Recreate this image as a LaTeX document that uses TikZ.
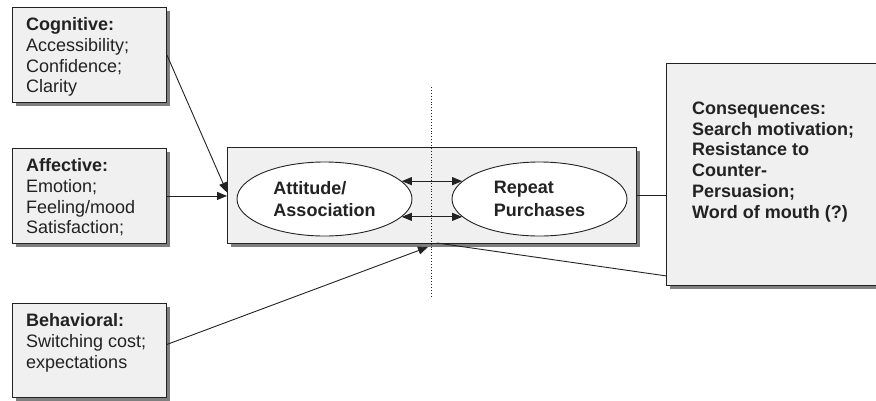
\documentclass[tikz,border=0pt]{standalone}
\usepackage{fontspec}
\setmainfont{Liberation Sans}
\usetikzlibrary{arrows.meta,shadows,shapes.geometric,calc}
\definecolor{boxfill}{HTML}{EFF0EF}
\definecolor{shadowgray}{HTML}{7F7F7F}
\definecolor{inkc}{HTML}{222222}
\begin{document}
\begin{tikzpicture}[x=1pt,y=-1pt,
  panel/.style={draw=inkc, line width=0.9pt, fill=boxfill,
    general shadow={fill=shadowgray, shadow xshift=4pt, shadow yshift=-4pt},
    inner sep=0pt, anchor=north west},
  lbl/.style={anchor=north west, inner sep=0pt, align=left,
    font=\fontsize{18}{20.6}\selectfont, text=inkc},
  oval/.style={ellipse, draw=inkc, line width=0.9pt, fill=white,
    minimum width=175pt, minimum height=74pt, inner sep=0pt, align=left,
    font=\fontsize{18}{22.4}\selectfont\bfseries, text=inkc},
  link/.style={draw=inkc, line width=0.9pt},
  arr/.style={link, -{Triangle[length=10pt,width=8pt]}},
  darr/.style={link, {Triangle[length=10pt,width=8pt]}-{Triangle[length=10pt,width=8pt]}},
]
\useasboundingbox (0,0) rectangle (876,400);

% left boxes
\node[panel, minimum width=154pt, minimum height=95pt] (cog) at (12,7) {};
\node[lbl] (cogt) at ([xshift=14pt,yshift=-9.3pt]cog.north west)
  {\strut\textbf{Cognitive:}\\Accessibility;\\Confidence;\\Clarity};

\node[panel, minimum width=154pt, minimum height=95pt] (aff) at (12,148) {};
\node[lbl] (afft) at ([xshift=14pt,yshift=-9.3pt]aff.north west)
  {\strut\textbf{Affective:}\\Emotion;\\Feeling/mood\\Satisfaction;};

\node[panel, minimum width=154pt, minimum height=94pt] (beh) at (12,303) {};
\node[lbl] (beht) at ([xshift=14pt,yshift=-9.3pt]beh.north west)
  {\strut\textbf{Behavioral:}\\Switching cost;\\expectations};

% central box
\node[panel, minimum width=409pt, minimum height=96pt] (central) at (227,147) {};
\node[oval] (att) at (324.5,199) {Attitude/\\Association};
\node[oval] (rep) at (539.5,199) {Repeat\\Purchases};
\draw[darr] (att.13) -- (rep.167);
\draw[darr] (att.-13) -- (rep.-167);

% consequences box
\node[panel, minimum width=214pt, minimum height=222pt] (conseq) at (666,63) {};
\node[lbl, font=\fontsize{18}{20.8}\selectfont\bfseries] (conseqt)
  at ([xshift=26pt,yshift=-36.6pt]conseq.north west)
  {\strut Consequences:\\Search motivation;\\Resistance to\\Counter-\\Persuasion;\\Word of mouth (?)};

% dotted divider
\coordinate (dtop) at (431.7,87);
\coordinate (dbot) at (431.7,298);
\draw[inkc, line width=0.9pt, dotted] (dtop) -- (dbot);

% connectors
\draw[arr] (cog.east) -- ([yshift=3pt]central.west);
\draw[arr] (aff.east) -- (aff.east -| central.west);
\coordinate (bt) at (428,247);
\draw[arr] ([yshift=6pt]beh.east) -- (bt);
\draw[link] (central.east) -- (central.east -| conseq.west);
\coordinate (bs) at (437,243);
\coordinate (be) at ([yshift=10pt]conseq.south west);
\draw[link] (bs) -- (be);
\end{tikzpicture}
\end{document}
